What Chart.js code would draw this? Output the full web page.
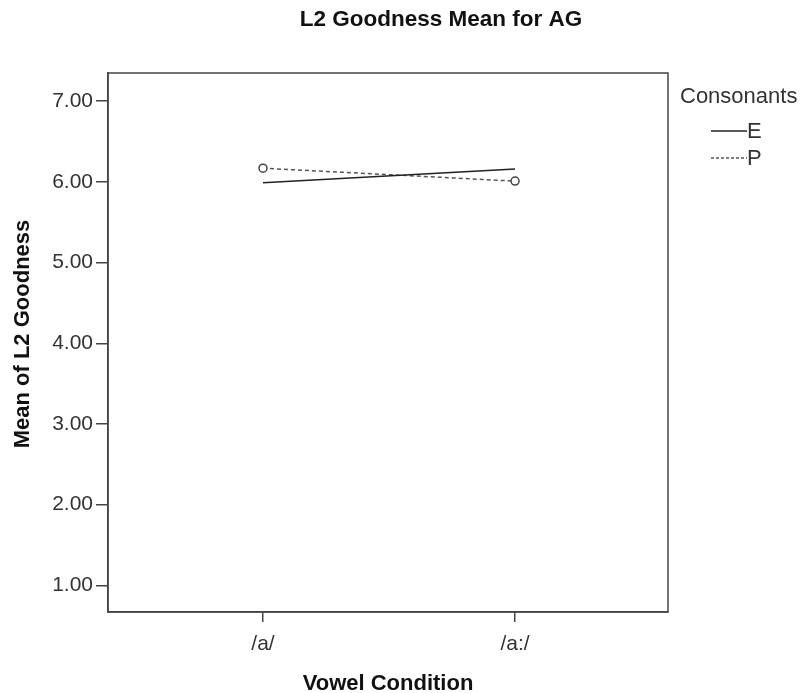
<!DOCTYPE html>
<html>
<head>
<meta charset="utf-8">
<script src="https://cdn.jsdelivr.net/npm/chart.js@4/dist/chart.umd.min.js"></script>
<style>
  body { margin: 0; background: #fff; }
  #wrap { width: 801px; height: 693px; position: relative; }
</style>
</head>
<body>
<div id="wrap"><canvas id="myChart" width="801" height="693"></canvas></div>
<script>
// data
var vowels = ["/a/", "/a:/"];
var consonants = ["E", "P"];
var meanE = [5.99, 6.16];
var meanP = [6.17, 6.01];
var yTicks = [1, 2, 3, 4, 5, 6, 7];

var FONT = "'Liberation Sans', Arial, sans-serif";
var INK = "#444";

function toPoints(values) {
    var pts = [];
    for (var i = 0; i < values.length; i++) {
        pts.push({ x: i + 1, y: values[i] });
    }
    return pts;
}

// title, box, legend and axis titles drawn by hand, SPSS style
var decor = {
    id: "decor",
    afterDraw: function(chart) {
        var ctx = chart.ctx;
        var a = chart.chartArea;
        ctx.save();

        ctx.strokeStyle = INK;
        ctx.lineWidth = 1.5;
        ctx.strokeRect(a.left, a.top, a.right - a.left, a.bottom - a.top);

        ctx.fillStyle = "#111";
        ctx.textAlign = "center";
        ctx.textBaseline = "middle";
        ctx.font = "bold 22.5px " + FONT;
        ctx.fillText("L2 Goodness Mean for AG", 441, 20);

        ctx.font = "bold 22px " + FONT;
        ctx.fillText("Vowel Condition", (a.left + a.right) / 2, 684);

        ctx.save();
        ctx.translate(23, 334);
        ctx.rotate(-Math.PI / 2);
        ctx.fillText("Mean of L2 Goodness", 0, 0);
        ctx.restore();

        // legend
        ctx.fillStyle = "#333";
        ctx.textAlign = "left";
        ctx.font = "22px " + FONT;
        ctx.fillText("Consonants", 680, 97);

        ctx.strokeStyle = "#222";
        ctx.lineWidth = 1.3;
        ctx.beginPath();
        ctx.moveTo(711, 131);
        ctx.lineTo(747, 131);
        ctx.stroke();
        ctx.fillText(consonants[0], 747, 132);

        ctx.strokeStyle = "#555";
        ctx.setLineDash([3, 2]);
        ctx.beginPath();
        ctx.moveTo(711, 158);
        ctx.lineTo(747, 158);
        ctx.stroke();
        ctx.setLineDash([]);
        ctx.fillText(consonants[1], 747, 159);

        ctx.restore();
    }
};

var graphic = document.getElementById("myChart");
var chart = new Chart(graphic, {
    type: "line",
    data: {
        datasets: [{
            label: consonants[0],
            data: toPoints(meanE),
            borderColor: "#222",
            borderWidth: 1.5,
            pointRadius: 0,
            fill: false
        }, {
            label: consonants[1],
            data: toPoints(meanP),
            borderColor: "#555",
            borderWidth: 1.5,
            borderDash: [4, 3],
            pointRadius: 4,
            pointBorderWidth: 1.5,
            pointBorderColor: "#444",
            pointBackgroundColor: "#fff",
            fill: false
        }]
    },
    options: {
        responsive: false,
        animation: false,
        layout: { padding: { left: 0, top: 73, right: 133, bottom: 0 } },
        plugins: {
            legend: { display: false },
            tooltip: { enabled: false }
        },
        scales: {
            x: {
                type: "linear",
                min: 0.385,
                max: 2.607,
                afterFit: function(scale) { scale.height = 81; },
                afterBuildTicks: function(scale) {
                    scale.ticks = vowels.map(function(v, i) { return { value: i + 1 }; });
                },
                ticks: {
                    callback: function(value) { return vowels[value - 1]; },
                    color: "#333",
                    font: { family: FONT, size: 21 },
                    padding: 10,
                    maxRotation: 0
                },
                grid: {
                    drawOnChartArea: false,
                    tickLength: 10,
                    color: INK,
                    lineWidth: 1.5
                },
                border: { color: INK, width: 1.5 }
            },
            y: {
                min: 0.67,
                max: 7.35,
                afterFit: function(scale) { scale.width = 108; },
                afterBuildTicks: function(scale) {
                    scale.ticks = yTicks.map(function(v) { return { value: v }; });
                },
                ticks: {
                    callback: function(value) { return value.toFixed(2); },
                    color: "#333",
                    font: { family: FONT, size: 21 },
                    padding: 3
                },
                grid: {
                    drawOnChartArea: false,
                    tickLength: 12,
                    color: INK,
                    lineWidth: 1.5
                },
                border: { color: INK, width: 1.5 }
            }
        }
    },
    plugins: [decor]
});
</script>
</body>
</html>
